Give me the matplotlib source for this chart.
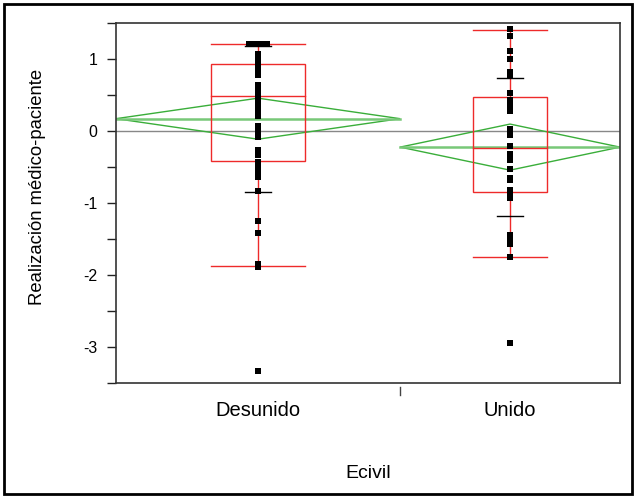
import numpy as np
import matplotlib
matplotlib.use("Agg")
import matplotlib.pyplot as plt
from matplotlib.patches import Rectangle, Polygon

plt.rcParams['font.family'] = ['Liberation Sans', 'DejaVu Sans']

# ---------------- data ----------------
groups = ["Desunido", "Unido"]
group_n = [62, 48]                      # group sizes (x widths proportional)

desunido_vals = [1.2, 1.2, 1.2, 1.2, 1.2, 1.06, 1.0, 0.94, 0.88, 0.82, 0.77,
                 0.63, 0.57, 0.51, 0.45, 0.39, 0.33, 0.27, 0.21,
                 0.06, 0.0, -0.06, -0.09, -0.27, -0.34, -0.44, -0.51, -0.54,
                 -0.6, -0.64, -0.84, -1.25, -1.42, -1.85, -1.9, -3.34]
unido_vals = [1.41, 1.31, 1.11, 1.0, 0.82, 0.77, 0.52, 0.43, 0.34, 0.27,
              0.02, -0.06, -0.21, -0.33, -0.41, -0.53, -0.66, -0.69,
              -0.82, -0.88, -0.94, -1.45, -1.51, -1.57, -1.75, -2.95]

means = [0.167, -0.228]
ci_half = [0.285, 0.32]
sds = [1.014, 0.96]
q1 = [-0.42, -0.845]
medians = [0.486, -0.236]
q3 = [0.926, 0.472]
whisk_lo = [-1.88, -1.76]
whisk_hi = [1.2, 1.398]
grand_mean = 0.0

yticks = [-3.5, -3, -2.5, -2, -1.5, -1, -0.5, 0, 0.5, 1, 1.5]
ytick_labels = ["", "-3", "", "-2", "", "-1", "", "0", "", "1", ""]

# ---------------- figure ----------------
W, H = 640, 497
fig = plt.figure(figsize=(W / 100, H / 100), dpi=100)
ax_l, ax_r, ax_t, ax_b = 116, 620, 22.7, 382.7
ax = fig.add_axes([ax_l / W, 1 - ax_b / H, (ax_r - ax_l) / W, (ax_b - ax_t) / H])

RED = '#ee2a2a'
GREEN = '#3aae3a'
GREEN_L = '#78c878'

edges = np.concatenate([[0], np.cumsum(group_n)]) / np.sum(group_n)
centers = (edges[:-1] + edges[1:]) / 2
widths = np.diff(edges)
px = 1.0 / (ax_r - ax_l)   # one pixel in x data units

ax.axhline(grand_mean, color='#888888', lw=1.0, zorder=1)

for i in range(2):
    c, w = centers[i], widths[i]
    # mean diamond
    dia = Polygon([[edges[i], means[i]], [c, means[i] + ci_half[i]],
                   [edges[i + 1], means[i]], [c, means[i] - ci_half[i]]],
                  closed=True, fill=False, edgecolor=GREEN, lw=1.0, zorder=2)
    ax.add_patch(dia)
    ax.plot([edges[i], edges[i + 1]], [means[i], means[i]], color=GREEN_L, lw=1.8, zorder=2)
    # box
    bw = w / 3
    ax.add_patch(Rectangle((c - bw / 2, q1[i]), bw, q3[i] - q1[i], fill=False,
                           edgecolor=RED, lw=1.0, zorder=3))
    ax.plot([c - bw / 2, c + bw / 2], [medians[i]] * 2, color=RED, lw=1.0, zorder=3)
    ax.plot([c, c], [q3[i], whisk_hi[i]], color=RED, lw=1.0, zorder=3)
    ax.plot([c, c], [q1[i], whisk_lo[i]], color=RED, lw=1.0, zorder=3)
    ax.plot([c - bw / 2, c + bw / 2], [whisk_hi[i]] * 2, color=RED, lw=1.0, zorder=3)
    ax.plot([c - bw / 2, c + bw / 2], [whisk_lo[i]] * 2, color=RED, lw=1.0, zorder=3)
    # std dev lines
    sw = 26 * px
    for v in (means[i] - sds[i], means[i] + sds[i]):
        ax.plot([c - sw / 2, c + sw / 2], [v, v], color='black', lw=1.0, zorder=4)

# points (duplicates spread horizontally)
for i, vals in enumerate([desunido_vals, unido_vals]):
    c = centers[i]
    uniq, counts = np.unique(np.array(vals), return_counts=True)
    xs, ys = [], []
    for v, k in zip(uniq, counts):
        offs = (np.arange(k) - (k - 1) / 2) * 4.5 * px
        xs.extend(c + offs)
        ys.extend([v] * k)
    ax.plot(xs, ys, 's', color='black', ms=3.8, mew=0, zorder=5)

ax.set_xlim(0, 1)
ax.set_ylim(-3.5, 1.5)
ax.set_yticks(yticks)
ax.set_yticklabels(ytick_labels, fontsize=11.5)
ax.tick_params(axis='y', direction='out', length=6.5, width=1.0, pad=7, colors='#222222', labelcolor='black')
ax.set_xticks([])
for s in ax.spines.values():
    s.set_color('#333333')
    s.set_linewidth(1.2)

# separator tick between groups
ax.plot([edges[1], edges[1]], [-4.3 / 360, -12.3 / 360], color='#444444', lw=1.0,
        transform=ax.get_xaxis_transform(), clip_on=False)

for i in range(2):
    ax.text(centers[i], -28 / 360, groups[i], transform=ax.get_xaxis_transform(),
            ha='center', va='center', fontsize=14.5)

ax.text(0.5, -90.3 / 360, "Ecivil", transform=ax.transAxes, ha='center', va='center', fontsize=14)
fig.text(38 / W, 1 - 186.5 / H, "Realización médico-paciente", rotation=90,
         ha='center', va='center', fontsize=13.3)

fig.patches.append(Rectangle((4 / W, 3 / H), (632 - 4) / W, (494 - 4) / H, transform=fig.transFigure,
                             fill=False, edgecolor='black', lw=2.0))

fig.savefig("out.png", dpi=100)
